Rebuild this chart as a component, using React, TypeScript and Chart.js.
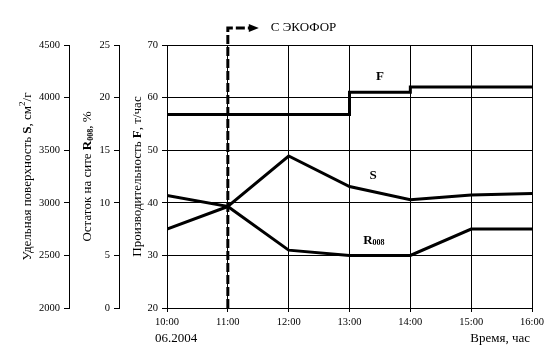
import React, { useEffect, useRef } from "react";
import { Chart, registerables } from "chart.js";

Chart.register(...registerables);

const hours = [10, 11, 12, 13, 14, 15, 16];
const productivityF = [56.8, 56.8, 56.8, 61, 62, 62, 62];
const surfaceS = [3070, 2965, 3445, 3155, 3030, 3075, 3088];
const residueR = [7.5, 9.65, 5.5, 5.0, 5.0, 7.5, 7.5];
const ecoforStartHour = 11;
const ecoforLabel = "С ЭКОФОР";
const dateLabel = "06.2004";
const xAxisTitle = "Время, час";

const SERIF = '"Liberation Serif", "Times New Roman", serif';

type Seg = { t: string; bold?: boolean; size?: number; shift?: number };

function drawSegs(ctx: CanvasRenderingContext2D, segs: Seg[], x: number, y: number, base: number, align: "center" | "left" | "right") {
  const font = (s: Seg) => `${s.bold ? "bold " : ""}${s.size ?? base}px ${SERIF}`;
  let total = 0;
  for (const s of segs) {
    ctx.font = font(s);
    total += ctx.measureText(s.t).width;
  }
  let cx = align === "center" ? x - total / 2 : align === "right" ? x - total : x;
  ctx.textAlign = "left";
  for (const s of segs) {
    ctx.font = font(s);
    ctx.fillText(s.t, cx, y + (s.shift ?? 0));
    cx += ctx.measureText(s.t).width;
  }
}

const titleS: Seg[] = [
  { t: "Удельная поверхность " },
  { t: "S", bold: true },
  { t: ", см" },
  { t: "2", size: 9, shift: -5 },
  { t: "/г" },
];
const titleR: Seg[] = [
  { t: "Остаток на сите " },
  { t: "R", bold: true },
  { t: "008", bold: true, size: 8, shift: 3 },
  { t: ", %" },
];
const titleF: Seg[] = [
  { t: "Производительность " },
  { t: "F", bold: true },
  { t: ", т/час" },
];

const overlayPlugin = {
  id: "overlay",
  afterDatasetsDraw(chart: any) {
    const ctx: CanvasRenderingContext2D = chart.ctx;
    const { chartArea, scales } = chart;
    const x11 = scales.x.getPixelForValue(ecoforStartHour);
    const topY = 28;
    ctx.save();
    ctx.strokeStyle = "#000";
    ctx.fillStyle = "#000";
    ctx.lineWidth = 3;
    ctx.setLineDash([9, 3]);
    ctx.beginPath();
    ctx.moveTo(x11, chartArea.bottom);
    ctx.lineTo(x11, topY);
    ctx.lineTo(x11 + 22, topY);
    ctx.stroke();
    ctx.setLineDash([]);
    ctx.beginPath();
    ctx.moveTo(x11 + 31, topY);
    ctx.lineTo(x11 + 21, topY - 4);
    ctx.lineTo(x11 + 21, topY + 4);
    ctx.closePath();
    ctx.fill();

    ctx.textBaseline = "middle";
    drawSegs(ctx, [{ t: ecoforLabel }], x11 + 43, topY, 13, "left");

    // series labels
    const xs = scales.x;
    const yF = scales.y;
    drawSegs(ctx, [{ t: "F", bold: true }], xs.getPixelForValue(13.5), yF.getPixelForValue(63.9), 13, "center");
    drawSegs(ctx, [{ t: "S", bold: true }], xs.getPixelForValue(13.39), yF.getPixelForValue(45.2), 13, "center");
    drawSegs(
      ctx,
      [
        { t: "R", bold: true },
        { t: "008", bold: true, size: 8, shift: 3 },
      ],
      xs.getPixelForValue(13.4),
      yF.getPixelForValue(32.9),
      13,
      "center"
    );

    // axis titles
    const cy = (chartArea.top + chartArea.bottom) / 2;
    const titles: [Seg[], number][] = [
      [titleS, 28],
      [titleR, 88],
      [titleF, 138],
    ];
    for (const [segs, cx] of titles) {
      ctx.save();
      ctx.translate(cx, cy);
      ctx.rotate(-Math.PI / 2);
      ctx.textBaseline = "middle";
      drawSegs(ctx, segs, 0, 0, 13, "center");
      ctx.restore();
    }

    drawSegs(ctx, [{ t: dateLabel }], 155, 339, 13, "left");
    drawSegs(ctx, [{ t: xAxisTitle }], 530, 339, 13, "right");
    ctx.restore();
  },
};

export default function App() {
  const ref = useRef<HTMLCanvasElement | null>(null);
  useEffect(() => {
    if (!ref.current) return;
    const tickFont = { family: SERIF, size: 10.5 };
    const plain = (v: any) => String(v);
    const lineDs = (label: string, data: number[], yAxisID: string, extra: any = {}) => ({
      label,
      data: hours.map((h, i) => ({ x: h, y: data[i] })),
      yAxisID,
      borderColor: "#000",
      borderWidth: 3,
      pointRadius: 0,
      fill: false,
      tension: 0,
      ...extra,
    });
    const chart = new Chart(ref.current, {
      type: "line",
      data: {
        datasets: [
          lineDs("F", productivityF, "y", { stepped: "before" }),
          lineDs("S", surfaceS, "yS"),
          lineDs("R008", residueR, "yR"),
        ],
      },
      options: {
        animation: false,
        responsive: false,
        layout: { padding: { left: 0, top: 45, right: 27, bottom: 31 } },
        plugins: { legend: { display: false }, tooltip: { enabled: false } },
        scales: {
          x: {
            type: "linear",
            min: 10,
            max: 16,
            position: "bottom",
            afterFit: (s: any) => {
              s.height = 20;
            },
            ticks: {
              stepSize: 1,
              font: tickFont,
              color: "#000",
              padding: 4,
              maxRotation: 0,
              callback: (v: any) => `${v}:00`,
            },
            grid: { color: "#000", lineWidth: 1, tickLength: 4 },
            border: { color: "#000" },
          },
          y: {
            position: "left",
            min: 20,
            max: 70,
            weight: 0,
            afterFit: (s: any) => {
              s.width = 48;
            },
            ticks: { stepSize: 10, font: tickFont, color: "#000", padding: 4, callback: plain },
            grid: { color: "#000", lineWidth: 1, tickLength: 5 },
            border: { color: "#000" },
          },
          yR: {
            position: "left",
            min: 0,
            max: 25,
            weight: 1,
            afterFit: (s: any) => {
              s.width = 50;
            },
            ticks: { stepSize: 5, font: tickFont, color: "#000", padding: 4, callback: plain },
            grid: { drawOnChartArea: false, color: "#000", tickLength: 5 },
            border: { color: "#000" },
          },
          yS: {
            position: "left",
            min: 2000,
            max: 4500,
            weight: 2,
            afterFit: (s: any) => {
              s.width = 69;
            },
            ticks: { stepSize: 500, font: tickFont, color: "#000", padding: 4, callback: plain },
            grid: { drawOnChartArea: false, color: "#000", tickLength: 5 },
            border: { color: "#000" },
          },
        },
      } as any,
      plugins: [overlayPlugin],
    });
    return () => chart.destroy();
  }, []);
  return (
    <div style={{ position: "absolute", left: 0, top: 0, width: 559, height: 359, background: "#fff" }}>
      <canvas ref={ref} width={559} height={359} style={{ display: "block" }} />
    </div>
  );
}
